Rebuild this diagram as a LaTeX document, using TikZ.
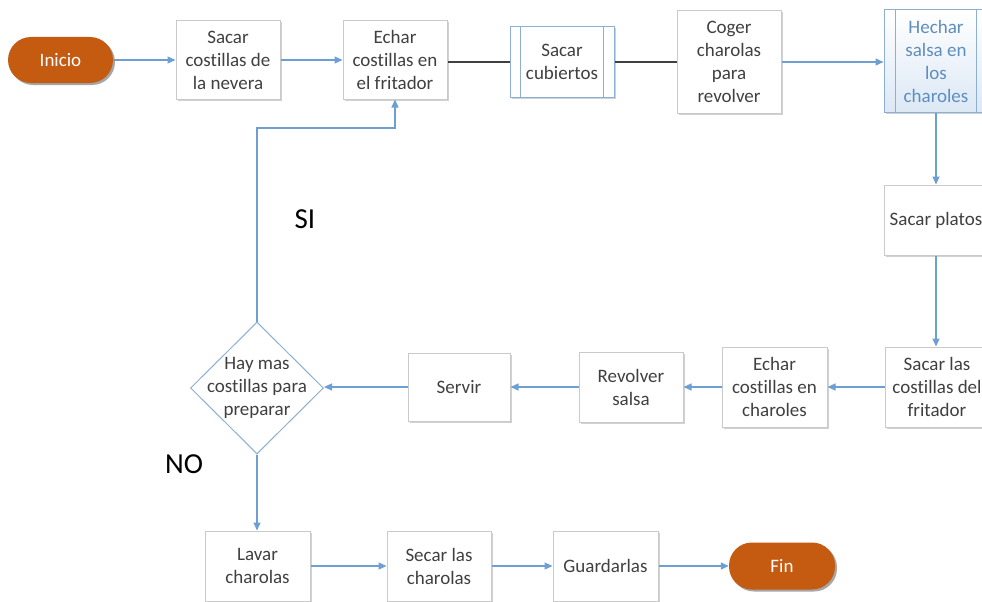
\documentclass[tikz,border=0pt]{standalone}
\usepackage{fontspec}
\setmainfont{Carlito}[Ligatures=NoCommon]
\usetikzlibrary{shapes.geometric,arrows.meta,shadows}

\definecolor{boxline}{HTML}{CACACA}
\definecolor{txt}{HTML}{404040}
\definecolor{flow}{HTML}{6E9FD2}
\definecolor{term}{HTML}{C55A11}
\definecolor{subline}{HTML}{8DAFD3}
\definecolor{subtext}{HTML}{5D8EBF}
\definecolor{subfill}{HTML}{DCE8F5}

\tikzset{
  every node/.style={font=\fontsize{19}{23}\selectfont, text=txt, align=center},
  procbox/.style={draw=boxline, line width=1pt, fill=white, inner sep=0,
    drop shadow={shadow xshift=1.5pt, shadow yshift=-1.5pt, opacity=0.18, fill=black}},
  terminal/.style={draw=none, fill=term, rounded corners=23pt, inner sep=0, text=white,
    drop shadow={shadow xshift=2pt, shadow yshift=-2pt, opacity=0.35, fill=black}},
  flowarrow/.style={draw=flow, line width=1.2pt, -{Triangle[length=8pt,width=7pt]}},
  plainline/.style={draw=txt, line width=1.1pt},
  bigword/.style={font=\fontsize{29}{34}\selectfont, text=black}
}

\begin{document}
\begin{tikzpicture}[x=1pt,y=-1pt]
\useasboundingbox (0,0) rectangle (982,602);
\fill[white] (0,0) rectangle (982,602);
\begin{scope}
\clip (0,0) rectangle (982,602);

% top row
\node[terminal, minimum width=105, minimum height=46] (inicio) at (60.5,60) {Inicio};
\node[procbox, minimum width=104, minimum height=78] (sacar) at (228,60) {Sacar\\costillas de\\la nevera};
\node[procbox, minimum width=104, minimum height=78] (echar) at (395,60) {Echar\\costillas en\\el fritador};
\node[procbox, draw=subline, minimum width=104, minimum height=70] (cub) at (562,62) {Sacar\\cubiertos};
\draw[subline, line width=1pt] ([xshift=11pt]cub.north west) -- ([xshift=11pt]cub.south west)
  ([xshift=-11pt]cub.north east) -- ([xshift=-11pt]cub.south east);
\node[procbox, minimum width=104, minimum height=103] (coger) at (729,62) {Coger\\charolas\\para\\revolver};
\node[procbox, draw=subline, top color=white, bottom color=subfill, minimum width=104,
  minimum height=102, text=subtext] (hechar) at (936,61) {Hechar\\salsa en\\los\\charoles};
\draw[subline, line width=1pt] ([xshift=12pt]hechar.north west) -- ([xshift=12pt]hechar.south west)
  ([xshift=-12pt]hechar.north east) -- ([xshift=-12pt]hechar.south east);

% right column
\node[procbox, minimum width=104, minimum height=70] (platos) at (936,220) {Sacar platos};
\node[procbox, minimum width=104, minimum height=80] (fuera) at (937,387) {Sacar las\\costillas del\\fritador};

% middle row
\node[procbox, minimum width=105, minimum height=80] (echarch) at (774.5,387) {Echar\\costillas en\\charoles};
\node[procbox, minimum width=104, minimum height=70] (revolver) at (631,387) {Revolver\\salsa};
\node[procbox, minimum width=102, minimum height=68] (servir) at (459,387) {Servir};
\node[diamond, draw=subline, line width=1pt, fill=white, minimum width=133,
  minimum height=132, inner sep=0] (dec) at (257,388) {};
\node at (dec) {Hay mas\\costillas para\\preparar};

% bottom row
\node[procbox, minimum width=105, minimum height=70] (lavar) at (257.5,566) {Lavar\\charolas};
\node[procbox, minimum width=104, minimum height=70] (secar) at (439,566) {Secar las\\charolas};
\node[procbox, minimum width=105, minimum height=70] (guardar) at (605.5,566) {Guardarlas};
\node[terminal, minimum width=106, minimum height=47] (fin) at (782,566) {Fin};

% decision labels
\node[bigword] (si) at (305,219) {SI};
\node[bigword] (no) at (184,464) {NO};

% connectors
\draw[flowarrow] (inicio) -- (sacar);
\draw[flowarrow] (sacar) -- (echar);
\draw[plainline] (cub.west -| echar.east) -- (cub.west);
\draw[plainline] (cub.east) -- (cub.east -| coger.west);
\draw[flowarrow] (coger.east) -- (coger.east -| hechar.west);
\draw[flowarrow] (hechar) -- (hechar |- platos.north);
\draw[flowarrow] (platos) -- (platos |- fuera.north);
\draw[flowarrow] (fuera.west) -- (echarch.east);
\draw[flowarrow] (echarch.west) -- (echarch.west -| revolver.east);
\draw[flowarrow] (revolver.west) -- (revolver.west -| servir.east);
\draw[flowarrow] (servir.west) -- (servir.west -| dec.east);
\coordinate (loop) at (257,128);
\draw[flowarrow] (dec.north) -- (loop) -| (echar.south);
\draw[flowarrow] (dec.south) -- (dec.south |- lavar.north);
\draw[flowarrow] (lavar) -- (secar);
\draw[flowarrow] (secar) -- (guardar);
\draw[flowarrow] (guardar) -- (fin);
\end{scope}
\end{tikzpicture}
\end{document}
